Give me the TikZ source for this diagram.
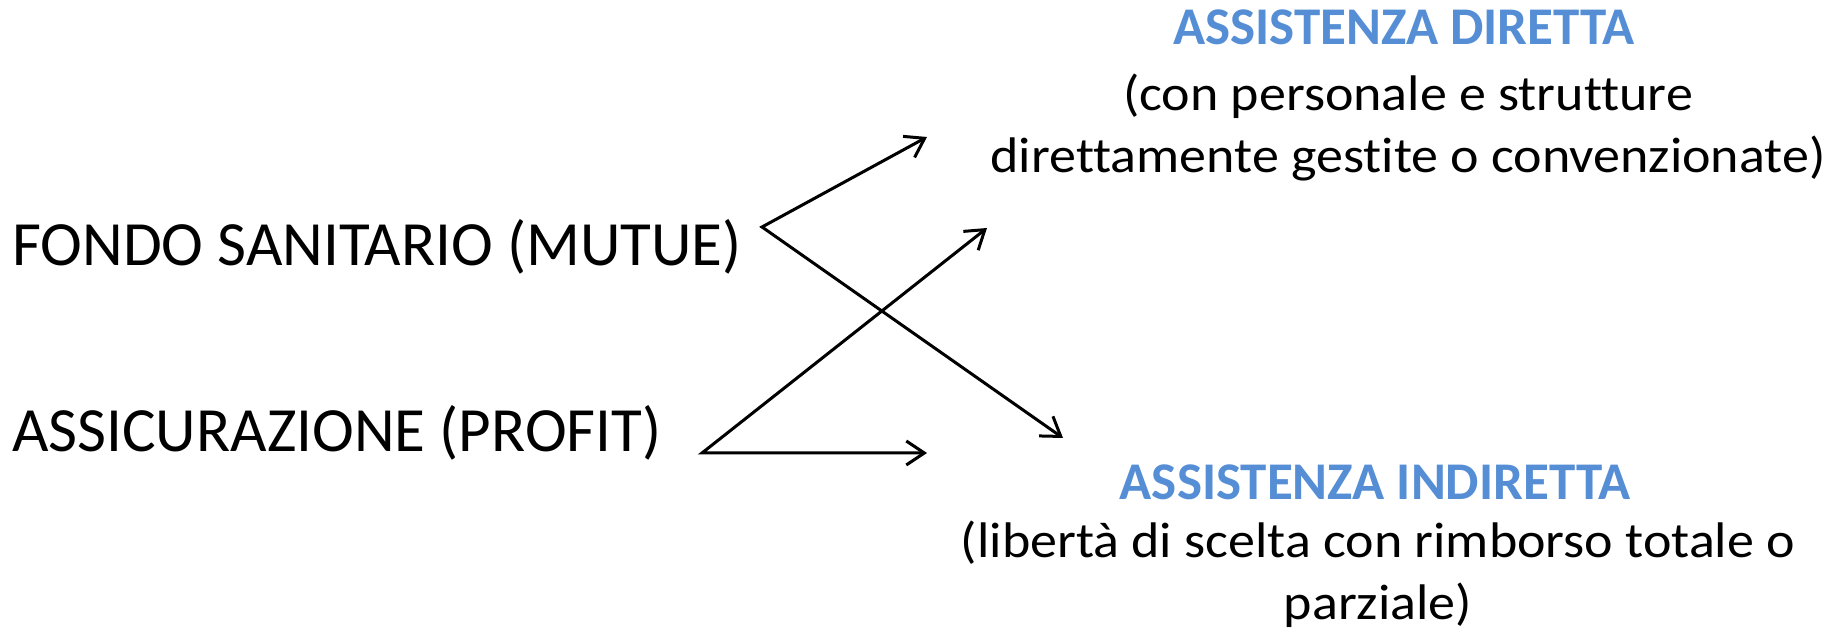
\documentclass[tikz,border=0pt]{standalone}
\usepackage{fontspec}
\setmainfont{Carlito}[Ligatures=NoCommon]
\newfontfamily\detailfont{Carlito}[Ligatures=NoCommon, FakeStretch=1.08]
\usetikzlibrary{arrows.meta,positioning}
\definecolor{headblue}{RGB}{85,142,213}
\begin{document}
\begin{tikzpicture}[x=1pt,y=1pt,
    source/.style={inner sep=0pt, anchor=base west, font=\fontsize{63}{74}\selectfont},
    heading/.style={inner sep=0pt, anchor=base, text=headblue, font=\fontsize{53}{62}\selectfont\bfseries},
    detail/.style={inner sep=0pt, anchor=base, align=center, font=\detailfont\fontsize{50}{62}\selectfont},
    link/.style={line width=3pt, line join=miter, {Straight Barb[length=18pt,width=24pt]}-{Straight Barb[length=18pt,width=24pt]}}]
    \useasboundingbox (0,0) rectangle (1833,636);
    \node[source] (fondo) at (12,370) {FONDO SANITARIO (MUTUE)};
    \node[source] (assic) at (12,184) {ASSICURAZIONE (PROFIT)};
    \node[heading] (diretta) at (1404,591) {ASSISTENZA DIRETTA};
    \node[detail] (diretta text) at (1408,463) {(con personale e strutture\\direttamente gestite o convenzionate)};
    \node[heading] (indiretta) at (1375,136) {ASSISTENZA INDIRETTA};
    \node[detail] (indiretta text) at (1378,16) {(libertà di scelta con rimborso totale o\\parziale)};
    \coordinate (fondo out) at (762,409);
    \coordinate (assic out) at (702,183);
    \coordinate (diretta in) at (927,499);
    \coordinate (diretta in2) at (987,408);
    \coordinate (indiretta in) at (1063,198);
    \coordinate (indiretta in2) at (927,183);
    \draw[link] (diretta in) -- (fondo out) -- (indiretta in);
    \draw[link] (diretta in2) -- (assic out) -- (indiretta in2);
\end{tikzpicture}
\end{document}
